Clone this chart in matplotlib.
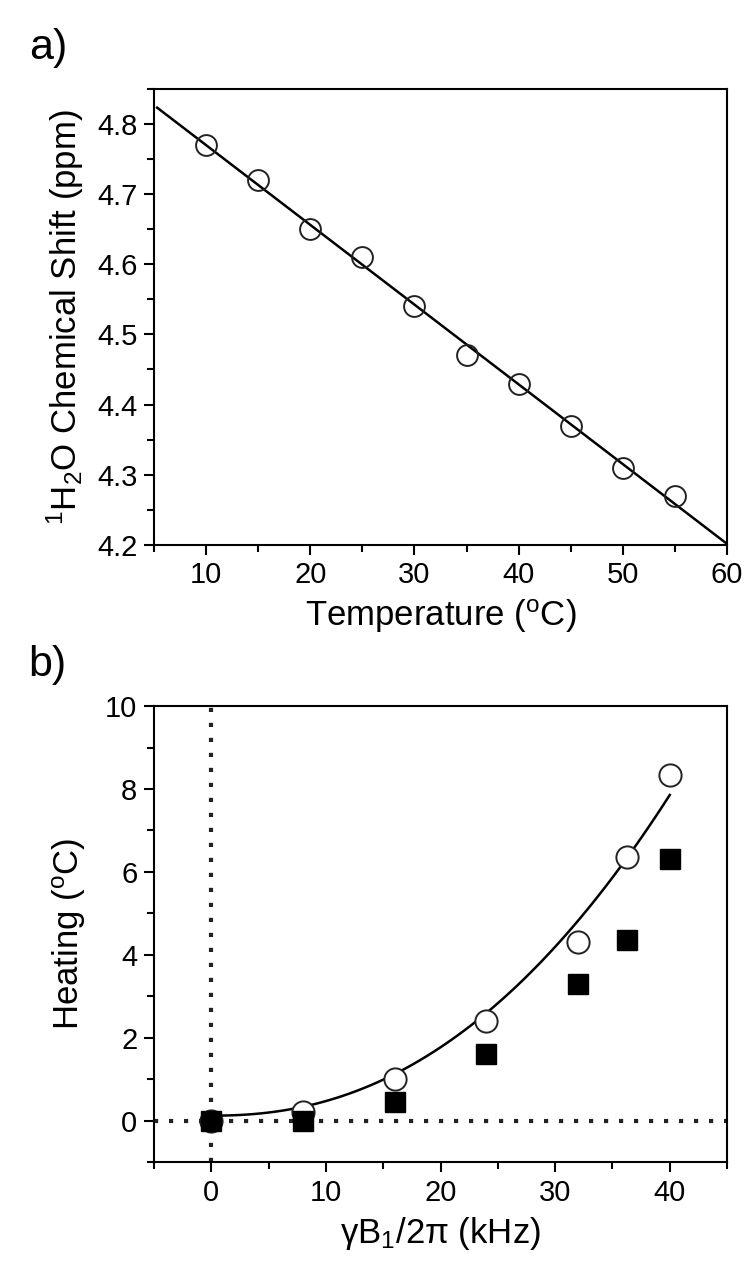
import matplotlib
matplotlib.use("Agg")
import matplotlib.pyplot as plt
from matplotlib.ticker import MultipleLocator
import numpy as np

plt.rcParams["font.family"] = ["Liberation Sans", "DejaVu Sans"]
plt.rcParams["mathtext.fontset"] = "custom"
plt.rcParams["mathtext.rm"] = "Liberation Sans"
plt.rcParams["mathtext.it"] = "Liberation Sans:italic"

# panel a: water chemical shift vs temperature
temp = [10, 15, 20, 25, 30, 35, 40, 45, 50, 55]
shift = [4.77, 4.72, 4.65, 4.61, 4.54, 4.47, 4.43, 4.37, 4.31, 4.27]

# panel b: heating vs B1 field
b1 = [0, 8, 16, 24, 32, 36.3, 40]
heat_open = [0.0, 0.2, 1.0, 2.4, 4.3, 6.35, 8.35]
heat_filled = [0.0, -0.02, 0.45, 1.6, 3.3, 4.35, 6.3]
# curve: offset + k * x**n
curve_c, curve_k, curve_n = 0.12, 0.00207, 2.23

TICK_FONT = ["Liberation Sans Narrow", "Liberation Sans"]


def style_ax(ax):
    for s in ax.spines.values():
        s.set_linewidth(1.5)
    ax.tick_params(which="both", direction="out", width=1.5, top=False, right=False,
                   labelsize=21, pad=5)
    ax.tick_params(which="major", length=7)
    ax.tick_params(which="minor", length=5)
    for lab in ax.get_xticklabels() + ax.get_yticklabels():
        lab.set_family(TICK_FONT)


def draw_a(fig):
    ax = fig.add_axes([0.204, 0.571, 0.759, 0.359])
    p = np.polyfit(temp, shift, 1)
    xx = np.linspace(5.3, 60, 50)
    ax.plot(xx, np.polyval(p, xx), color="black", lw=1.8)
    ax.plot(temp, shift, "o", mfc="none", mec="#222222", ms=15, mew=1.4)
    ax.set_xlim(5, 60)
    ax.set_ylim(4.2, 4.85)
    ax.xaxis.set_major_locator(MultipleLocator(10))
    ax.xaxis.set_minor_locator(MultipleLocator(5))
    ax.yaxis.set_minor_locator(MultipleLocator(0.05))
    ax.set_yticks([4.2, 4.3, 4.4, 4.5, 4.6, 4.7, 4.8])
    ax.set_xticks([10, 20, 30, 40, 50, 60])
    style_ax(ax)
    ax.set_xlabel(r"Temperature ($^{\mathrm{o}}$C)", fontsize=25, labelpad=6)
    ax.set_ylabel(r"$^{1}$H$_{2}$O Chemical Shift (ppm)", fontsize=25, labelpad=8)


def draw_b(fig):
    ax = fig.add_axes([0.204, 0.085, 0.759, 0.359])
    ax.axhline(0, color="#222222", lw=3, ls=(0, (1, 2.6)))
    ax.axvline(0, color="#222222", lw=3, ls=(0, (1, 2.6)))
    xx = np.linspace(0, 40, 100)
    ax.plot(xx, curve_c + curve_k * xx ** curve_n, color="black", lw=1.8)
    ax.plot(b1, heat_open, "o", mfc="white", mec="#222222", ms=16, mew=1.4)
    ax.plot(b1, heat_filled, "s", color="black", ms=14)
    ax.set_xlim(-5, 45)
    ax.set_ylim(-1, 10)
    ax.xaxis.set_minor_locator(MultipleLocator(5))
    ax.set_xticks([0, 10, 20, 30, 40])
    ax.yaxis.set_minor_locator(MultipleLocator(1))
    ax.set_yticks([0, 2, 4, 6, 8, 10])
    style_ax(ax)
    ax.set_xlabel(r"γB$_{1}$/2π (kHz)", fontsize=25, labelpad=6)
    ax.set_ylabel(r"Heating ($^{\mathrm{o}}$C)", fontsize=25, labelpad=12)


def main():
    fig = plt.figure(figsize=(7.55, 12.7), dpi=100)
    draw_a(fig)
    draw_b(fig)
    fig.text(0.038, 0.978, "a)", fontsize=31, va="top")
    fig.text(0.038, 0.492, "b)", fontsize=31, va="top")
    fig.savefig("out.png", dpi=100)


if __name__ == "__main__":
    main()
